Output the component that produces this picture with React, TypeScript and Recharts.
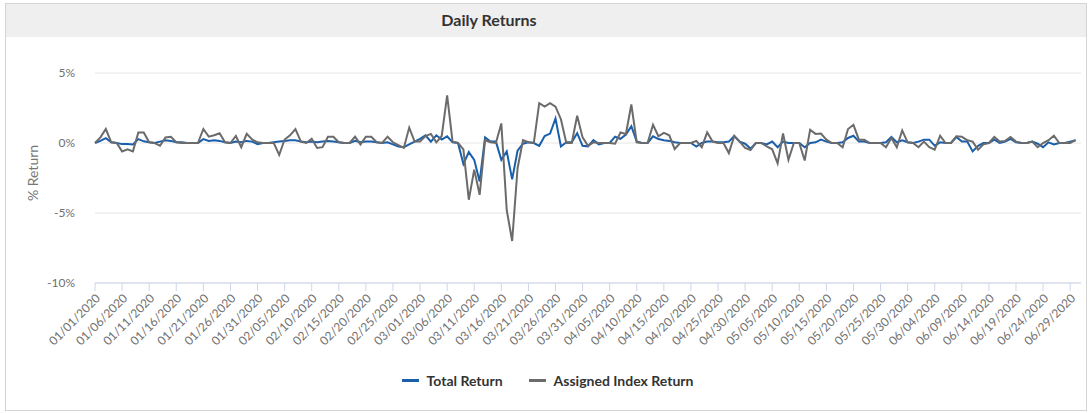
import { LineChart, Line, XAxis, YAxis, CartesianGrid } from "recharts";

// daily % returns, 01/01/2020 .. 06/30/2020 (one value per calendar day)
const totalReturn = [
  0, 0.15, 0.35, 0.05, 0, -0.08, -0.08, -0.1, 0.28, 0.12,
  0.05, 0, 0.1, 0.2, 0.15, 0.05, 0.05, 0, 0, 0,
  0.28, 0.15, 0.2, 0.15, 0.05, 0, 0.1, 0.05, 0.15, 0.1,
  -0.08, 0, 0, 0.05, 0.1, 0.15, 0.2, 0.2, 0.1, 0.05,
  0.1, 0.05, 0.1, 0.15, 0.1, 0.05, 0, 0, 0.15, 0.05,
  0.1, 0.1, 0.05, 0, 0.05, -0.1, -0.25, -0.3, -0.1, 0.1,
  0.3, 0.55, 0.1, 0.55, 0.25, 0.48, 0.05, 0, -1.5, -0.65,
  -1.2, -2.75, 0.4, 0.1, 0.1, -1.2, -0.6, -2.6, -0.55, -0.05,
  0.05, 0, -0.2, 0.5, 0.67, 1.75, -0.25, 0.05, 0.05, 0.7,
  -0.2, -0.24, 0.2, -0.1, 0, 0, 0.45, 0.3, 0.6, 1.2,
  0.1, 0, 0, 0.48, 0.28, 0.2, 0.15, 0.05, 0, 0,
  0, -0.25, 0, 0.1, 0.1, 0.05, 0.05, 0.1, 0.5, 0.1,
  -0.05, -0.4, 0, 0, -0.1, 0.1, -0.3, 0.1, 0, 0,
  0, -0.3, 0, 0.05, 0.24, 0.1, 0, 0, 0.05, 0.36,
  0.52, 0.1, 0.1, 0, 0, 0, 0.05, 0.43, 0.05, 0.2,
  0.05, 0, 0.1, 0.24, 0.24, -0.2, 0.05, 0, 0, 0.43,
  0.1, 0.1, -0.6, -0.2, 0, 0, 0.24, 0, 0.1, 0.3,
  0.05, 0, 0, 0.1, -0.05, -0.3, 0.05, -0.1, 0, 0,
  0.1, 0.2,
];

const indexReturn = [
  0, 0.4, 1.0, 0.05, 0, -0.6, -0.45, -0.6, 0.75, 0.75,
  0.05, 0, -0.2, 0.4, 0.45, 0.05, 0, 0, 0, 0,
  1.0, 0.45, 0.55, 0.7, 0.05, 0, 0.5, -0.3, 0.65, 0.25,
  0.05, 0, 0, 0, -0.85, 0.25, 0.55, 1.0, 0.1, 0,
  0.3, -0.35, -0.3, 0.45, 0.45, 0.05, 0, 0, 0.45, -0.1,
  0.45, 0.45, 0.05, 0, 0.45, 0.05, -0.15, -0.35, 1.1, 0.1,
  0.1, 0.5, 0.65, 0.05, 0.5, 3.4, 0.1, 0, -0.45, -4.05,
  -1.9, -3.7, 0.2, 0.05, 0, 1.4, -4.8, -7.0, -1.8, 0.2,
  0.05, 0, 2.85, 2.6, 2.85, 2.6, 1.7, 0, 0, 1.95,
  0.4, -0.2, 0.05, 0, 0, 0, -0.05, 0.75, 0.65, 2.75,
  0.05, 0, 0, 1.3, 0.48, 0.72, 0.55, -0.43, 0, 0,
  0, 0.15, -0.3, 0.76, 0.1, 0, 0, -0.72, 0.5, 0.1,
  -0.35, -0.5, 0, 0, -0.25, -0.45, -1.45, 0.68, -1.2, 0,
  0, -1.25, 0.95, 0.65, 0.67, 0.24, 0, 0, -0.3, 1.0,
  1.3, 0.24, 0.24, 0, 0, 0, -0.3, 0.36, -0.3, 0.9,
  0.05, 0, -0.3, 0.1, -0.3, -0.48, 0.52, 0, 0, 0.48,
  0.45, 0.2, 0.1, -0.48, -0.1, 0, 0.43, 0.1, 0.15, 0.43,
  0.1, 0, 0, 0.1, -0.3, 0, 0.2, 0.52, 0, 0,
  0, 0.2,
];

// one label every 5 days
const tickLabels = [
  "01/01/2020", "01/06/2020", "01/11/2020", "01/16/2020", "01/21/2020",
  "01/26/2020", "01/31/2020", "02/05/2020", "02/10/2020", "02/15/2020",
  "02/20/2020", "02/25/2020", "03/01/2020", "03/06/2020", "03/11/2020",
  "03/16/2020", "03/21/2020", "03/26/2020", "03/31/2020", "04/05/2020",
  "04/10/2020", "04/15/2020", "04/20/2020", "04/25/2020", "04/30/2020",
  "05/05/2020", "05/10/2020", "05/15/2020", "05/20/2020", "05/25/2020",
  "05/30/2020", "06/04/2020", "06/09/2020", "06/14/2020", "06/19/2020",
  "06/24/2020", "06/29/2020",
];

const yTicks = [-10, -5, 0, 5];

const BLUE = "#1a5fab";
const GRAY = "#6b6b6b";
const FONT = "Lato, 'Open Sans', sans-serif";

const data = totalReturn.map((v, i) => ({
  day: i,
  total: v,
  index: indexReturn[i],
}));
const xTicks = tickLabels.map((_, i) => i * 5);

export default function App() {
  return (
    <div
      style={{
        position: "absolute",
        left: 0,
        top: 0,
        width: 1091,
        height: 413,
        background: "#fff",
        fontFamily: FONT,
      }}
    >
      <div
        style={{
          position: "absolute",
          left: 5,
          top: 3,
          width: 1080,
          height: 406,
          border: "1px solid #d4d4d4",
        }}
      />
      <div
        style={{
          position: "absolute",
          left: 6,
          top: 4,
          width: 1080,
          height: 33,
          background: "#efefef",
        }}
      />
      <div
        style={{
          position: "absolute",
          left: 389,
          top: 10,
          width: 200,
          textAlign: "center",
          fontSize: 16,
          fontWeight: 700,
          color: "#333",
        }}
      >
        Daily Returns
      </div>
      <div
        style={{
          position: "absolute",
          left: 32,
          top: 173,
          transform: "translate(-50%, -50%) rotate(-90deg)",
          fontSize: 14,
          color: "#777",
          whiteSpace: "nowrap",
        }}
      >
        % Return
      </div>

      <div style={{ position: "absolute", left: 0, top: 0 }}>
        <LineChart
          width={1091}
          height={413}
          data={data}
          margin={{ top: 73, right: 10, left: 35, bottom: 60 }}
        >
          <CartesianGrid vertical={false} stroke="#e6e6e6" />
          <XAxis
            dataKey="day"
            type="number"
            domain={[0, 182]}
            ticks={xTicks}
            interval={0}
            tickFormatter={(v: number) => tickLabels[v / 5]}
            height={70}
            axisLine={{ stroke: "#ccd6eb" }}
            tickLine={{ stroke: "#ccd6eb" }}
            tickSize={8}
            tickMargin={2}
            angle={-45}
            textAnchor="end"
            tick={{ fontSize: 12, fill: "#707070", fontFamily: FONT }}
          />
          <YAxis
            domain={[-10, 5]}
            ticks={yTicks}
            width={60}
            axisLine={false}
            tickLine={false}
            tickSize={0}
            tickMargin={20}
            tickFormatter={(v: number) => `${v}%`}
            tick={{ fontSize: 12, fill: "#707070", fontFamily: FONT }}
          />
          <Line
            type="linear"
            dataKey="total"
            stroke={BLUE}
            strokeWidth={2}
            dot={false}
            isAnimationActive={false}
          />
          <Line
            type="linear"
            dataKey="index"
            stroke={GRAY}
            strokeWidth={2}
            dot={false}
            isAnimationActive={false}
          />
        </LineChart>
      </div>

      <div
        style={{
          position: "absolute",
          left: 0,
          top: 372,
          width: 1095,
          display: "flex",
          justifyContent: "center",
          gap: 26,
          fontSize: 14,
          fontWeight: 700,
          color: "#333",
        }}
      >
        {[
          { name: "Total Return", color: BLUE },
          { name: "Assigned Index Return", color: GRAY },
        ].map((s) => (
          <div key={s.name} style={{ display: "flex", alignItems: "center" }}>
            <span
              style={{
                display: "inline-block",
                width: 17,
                height: 3,
                background: s.color,
                marginRight: 8,
              }}
            />
            <span>{s.name}</span>
          </div>
        ))}
      </div>
    </div>
  );
}
